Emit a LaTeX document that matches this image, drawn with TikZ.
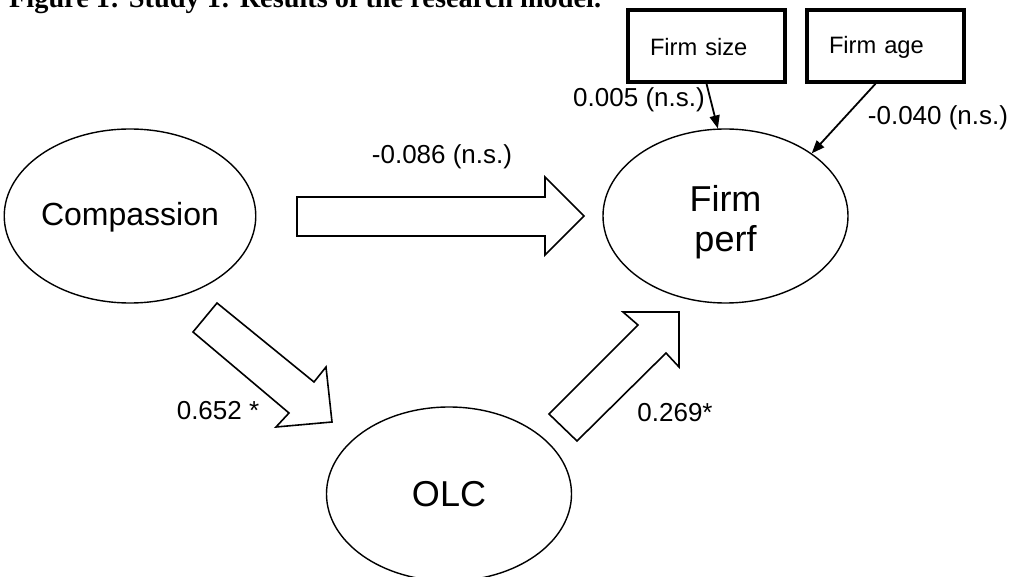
\documentclass[tikz,border=0pt]{standalone}
\usepackage{fontspec}
\setmainfont{Liberation Sans}
\newfontfamily\titlefont{Liberation Serif}
\usepackage{tikz}
\usetikzlibrary{arrows.meta, shapes.geometric, positioning, calc}

\tikzset{
  latent/.style={ellipse, draw, line width=1.4pt, minimum width=245pt, minimum height=174pt, inner sep=0pt, align=center},
  ctrlbox/.style={rectangle, draw, line width=3.5pt, minimum height=72pt, text width=113pt, inner xsep=22pt, align=left, font=\fontsize{23.7}{28}\selectfont},
  coef/.style={inner sep=0pt, font=\fontsize{26}{30}\selectfont},
  blockarrow/.style={draw, line width=1.6pt, line join=miter, fill=white},
}

\begin{document}
\begin{tikzpicture}[x=1pt, y=-1pt, >={Triangle[length=13pt, width=10pt]}]
    \useasboundingbox (0, 0) rectangle (1013, 577);

    \node[anchor=base west, inner sep=0pt, font=\titlefont\bfseries\fontsize{28.3}{32}\selectfont] (title) at (9, 8) {Figure 1: Study 1: Results of the research model.};

    \node[latent, font=\fontsize{32}{36}\selectfont] (comp) at (130, 216) {\rule{0pt}{26pt}Compassion};
    \node[latent, font=\fontsize{36}{40}\selectfont] (perf) at (725.5, 216) {\rule{0pt}{38pt}Firm\\perf};
    \node[latent, font=\fontsize{36}{40}\selectfont] (olc) at (449, 494) {OLC};

    \node[ctrlbox] (size) at (706.5, 46) {\rule{0pt}{20pt}Firm size};
    \node[ctrlbox] (age) at (885.5, 46) {\rule{0pt}{20pt}Firm age};

    % block arrows
    \draw[blockarrow] (297, 197) -- (545, 197) -- (545, 177) -- (584, 216) -- (545, 255) -- (545, 236) -- (297, 236) -- cycle;
    \draw[blockarrow] (193, 332) -- (217, 303) -- (314, 382) -- (326, 367) -- (332, 422) -- (276, 427) -- (289, 413) -- cycle;
    \draw[blockarrow] (549, 414) -- (577, 441) -- (666, 353) -- (679, 367) -- (679, 312) -- (623, 312) -- (638, 325) -- cycle;

    \node[coef] (c1) at (442, 157) {-0.086 (n.s.)};
    \node[coef] (c2) at (218, 411) {0.652 *};
    \node[coef] (c3) at (675, 413) {0.269*};
    \node[coef] (c4) at (639, 100) {0.005 (n.s.)};
    \node[coef] (c5) at (938, 118) {-0.040 (n.s.)};

    \draw[->, line width=1.8pt] (size.south) -- (perf.95);
    \draw[->, line width=1.8pt] ([xshift=-10pt]age.south) -- (perf.36);

  \end{tikzpicture}
\end{document}
